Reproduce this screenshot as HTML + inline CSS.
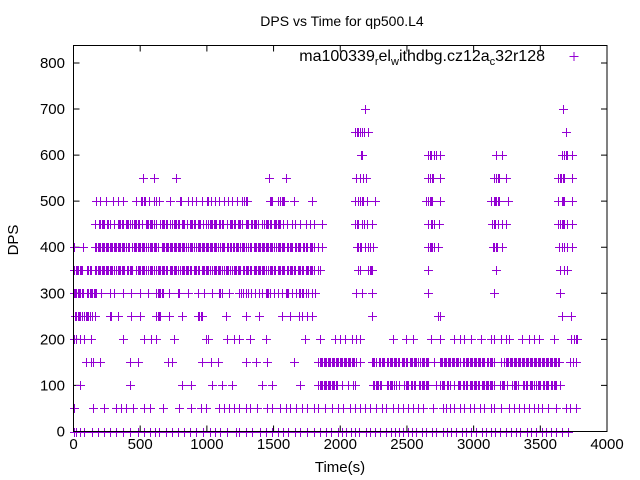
<!DOCTYPE html>
<html><head><meta charset="utf-8"><style>
html,body{margin:0;padding:0;background:#fff;}
svg{display:block;font-family:"Liberation Sans",sans-serif;}
</style></head><body>
<svg id="chart" width="640" height="480" viewBox="0 0 640 480" xmlns="http://www.w3.org/2000/svg">
<rect x="0" y="0" width="640" height="480" fill="#fff"/>
<text x="342" y="26" font-size="14" text-anchor="middle" fill="#000">DPS vs Time for qp500.L4</text>
<text x="18" y="240" font-size="15" text-anchor="middle" transform="rotate(-90 18 240)" fill="#000">DPS</text>
<text x="340" y="472" font-size="15" text-anchor="middle" fill="#000">Time(s)</text>
<g id="ticks"></g>
<g id="marks" shape-rendering="crispEdges"></g>
<rect x="73.5" y="45.5" width="533.5" height="386" fill="none" stroke="#000" stroke-width="1"/>
<g>
<text x="545" y="61" font-size="16" text-anchor="end" fill="#000">ma100339<tspan font-size="11" dy="4">r</tspan><tspan dy="-4">el</tspan><tspan font-size="11" dy="4">w</tspan><tspan dy="-4">ithdbg.cz12a</tspan><tspan font-size="11" dy="4">c</tspan><tspan dy="-4">32r128</tspan></text>
<path d="M569.5 56.5h9M574 52v9" stroke="#9400d3" stroke-width="1"/>
</g>
</svg>
<script>
// Data: DPS levels and sample times (single times or [start,end] runs sampled every 10 s)
const xTicks = [0, 500, 1000, 1500, 2000, 2500, 3000, 3500, 4000];
const yTicks = [0, 100, 200, 300, 400, 500, 600, 700, 800];
const levels = [0, 50, 100, 150, 200, 250, 300, 350, 400, 450, 500, 550, 600, 650, 700];
const t0 = [0,20,45,80,140,180,230,270,320,370,420,480,530,570,610,640,690,740,780,830,870,920,970,1020,1060,1100,1150,1215,1240,1290,1340,1400,1440,1490,1530,1570,1610,1660,1700,1750,1800,1850,1890,1930,1980,2010,2040,2080,2110,2140,2190,2220,2260,2300,2340,2380,2410,2440,2470,2510,2540,2570,2610,2640,2690,2720,2770,2800,2830,2870,2910,2940,2980,3020,3060,3090,3130,3160,3200,3240,3280,3320,3350,3400,3430,3470,3510,3540,3580,3620,3660,3710];
const t50 = [0,145,230,320,355,395,445,530,570,670,790,880,955,990,1090,1130,1165,1200,1240,1290,1325,1375,1450,1490,1550,1590,1625,1665,1715,1750,1800,1835,1885,1935,1985,2020,2070,2110,2145,2185,2220,2270,2310,2345,2395,2435,2470,2510,2545,2580,2620,2695,2770,2795,2820,2855,2895,2930,2970,3005,3045,3080,3130,3155,3205,3265,3305,3340,3380,3415,3455,3480,3515,3555,3615,3690,3725,3765];
const t100 = [45,420,815,880,1040,1115,1190,1415,1490,1700,[1835,1975],2010,2060,2095,2110,[2245,2310],[2350,2400],2420,2440,[2480,2510],[2530,2560],[2590,2660],2720,[2750,2780],[2800,2820],2850,[2880,2900],[2920,2950],[2970,3000],[3010,3040],[3060,3150],[3200,3230],3250,[3290,3330],[3370,3400],[3420,3450],[3470,3500],[3520,3560],[3580,3620],3650];
const t150 = [95,130,145,195,420,480,705,740,965,1030,1080,1290,1365,1450,1650,[1835,2120],2145,[2235,2270],[2290,2330],[2350,2440],[2460,2500],[2520,2580],[2600,2660],2705,[2745,2900],[2920,3080],[3100,3155],3205,[3230,3640],3725,3745,3770];
const t200 = [0,20,45,80,130,370,530,580,615,755,990,1005,1150,1200,1240,1325,1440,1735,1850,1960,1995,2035,2085,2120,2145,2395,2495,2545,2680,2745,2855,2895,2930,2980,3055,3130,3155,3205,3240,3265,3365,3415,3455,3490,3600,3727,3752,3765,3777];
const t250 = [[10,60],[80,120],140,160,270,280,330,430,495,[620,655],715,815,930,940,955,965,1140,1290,1390,1565,1625,1690,1715,1750,1785,2235,2730,2745,3665,3727];
const t300 = [[0,70],[100,170],205,270,305,370,430,495,555,[620,670],715,780,790,855,930,980,1040,[1090,1115],1165,1240,1255,1270,1290,1310,1330,1360,1390,1410,[1440,1470],1500,1530,1560,[1590,1610],1640,1670,[1690,1720],1740,1760,1790,1810,2120,2160,2235,2655,3155,3650];
const t350 = [[5,70],[100,130],[160,300],[320,380],[400,440],[470,540],[560,600],[620,700],[720,780],[800,880],[900,940],[960,1020],[1040,1110],[1130,1170],[1190,1250],[1270,1330],[1350,1440],[1460,1510],[1530,1580],[1600,1660],[1680,1720],[1740,1800],1830,1850,2135,2150,[2210,2245],2655,3165,3650,3675,3700];
const t400 = [0,70,[160,300],[310,380],[395,420],[440,500],[510,540],[560,590],[600,630],[660,790],[800,840],[860,900],[920,960],[970,1080],[1100,1130],[1150,1180],[1195,1240],[1250,1290],[1310,1330],[1350,1450],[1460,1500],[1520,1580],[1600,1640],[1660,1700],[1720,1750],[1770,1800],1830,1860,[2125,2160],2185,2205,2225,2245,[2660,2690],2700,2730,[3145,3165],3175,3215,3640,3660,3680,3700,3740];
const t450 = [160,[190,230],[250,270],300,[330,370],[390,420],[440,490],510,[540,600],620,[650,700],720,[740,790],[810,830],850,[870,910],[930,950],970,990,[1010,1070],[1090,1120],1150,[1170,1210],[1230,1260],[1290,1310],[1330,1380],1410,[1430,1480],[1500,1550],1570,1600,1640,1660,1700,1740,1770,1800,1860,2110,[2125,2140],2160,2180,2200,2235,2660,[2680,2700],2740,3135,[3150,3165],3185,3215,3240,3630,3650,[3660,3680],3700,3740];
const t500 = [170,195,245,295,330,370,470,[505,540],565,600,620,640,725,[795,810],860,890,920,960,[1000,1010],1030,1060,1090,1130,1160,1190,1225,1260,[1280,1300],[1470,1490],1530,1550,1560,1570,1580,1650,1785,2110,2135,[2150,2170],2200,2260,2645,[2660,2690],2745,3130,[3150,3190],3255,3630,[3660,3680],3740];
const t550 = [520,605,765,1465,1590,2120,2145,2170,2195,2660,[2675,2700],2745,3155,[3170,3190],3240,3630,3645,3655,3670,3680,3735];
const t600 = [[2155,2165],[2660,2680],2700,2720,2745,3165,3215,3665,[3680,3700],3740];
const t650 = [2110,[2125,2135],2150,2165,2180,2205,3690];
const t700 = [2187,3672];
const series = [t0,t50,t100,t150,t200,t250,t300,t350,t400,t450,t500,t550,t600,t650,t700];

const X0 = 73.5, XSCALE = 533.5 / 4000;
const Y0 = 431.5, YSCALE = 0.4607;
function xPos(t){ return X0 + t * XSCALE; }
function yPos(v){ return Y0 - v * YSCALE; }

const NS = 'http://www.w3.org/2000/svg';
const ticksG = document.getElementById('ticks');
xTicks.forEach(function(v){
  const x = xPos(v);
  const l = document.createElementNS(NS,'path');
  l.setAttribute('d','M'+x+' '+Y0+'v-6M'+x+' 45.5v6');
  l.setAttribute('stroke','#000');
  
  
  ticksG.appendChild(l);
  const t = document.createElementNS(NS,'text');
  t.setAttribute('x', x); t.setAttribute('y', 449);
  t.setAttribute('font-size','15'); t.setAttribute('text-anchor','middle');
  t.textContent = v;
  
  
  ticksG.appendChild(t);
});
yTicks.forEach(function(v){
  const y = yPos(v);
  const l = document.createElementNS(NS,'path');
  l.setAttribute('d','M'+X0+' '+y+'h6M607 '+y+'h-6');
  l.setAttribute('stroke','#000');
  
  
  ticksG.appendChild(l);
  const t = document.createElementNS(NS,'text');
  t.setAttribute('x', 65); t.setAttribute('y', y + 5);
  t.setAttribute('font-size','15'); t.setAttribute('text-anchor','end');
  t.textContent = v;
  
  
  ticksG.appendChild(t);
});

const marksG = document.getElementById('marks');
series.forEach(function(list, i){
  const y = Math.round(yPos(levels[i])) + 0.5;
  let d = '';
  list.forEach(function(item){
    const times = [];
    if (Array.isArray(item)) { for (let t = item[0]; t <= item[1]; t += 10) times.push(t); }
    else times.push(item);
    times.forEach(function(t){
      const x = Math.round(xPos(t)) + 0.5;
      d += 'M'+(x-4.5)+' '+y+'h9M'+x+' '+(y-4.5)+'v9';
    });
  });
  const p = document.createElementNS(NS,'path');
  p.setAttribute('d', d);
  p.setAttribute('stroke','#9400d3');
  p.setAttribute('stroke-width','1');
  p.setAttribute('fill','none');
  
  
  marksG.appendChild(p);
});
</script>
</body></html>
